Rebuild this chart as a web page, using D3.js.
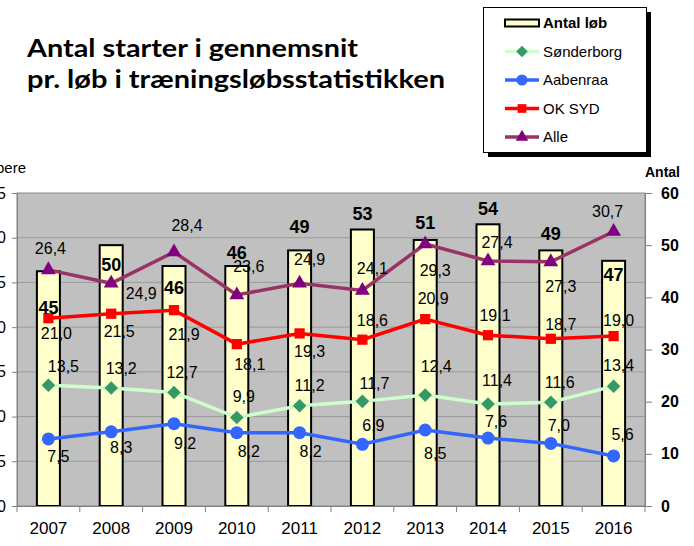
<!DOCTYPE html>
<html>
<head>
<meta charset="utf-8">
<script src="https://cdn.jsdelivr.net/npm/d3@7"></script>
<style>
  body { margin: 0; background: #fff; }
  svg { display: block; font-family: "Liberation Sans", Arial, sans-serif; }
</style>
</head>
<body>
<script>
// data
var years = [2007, 2008, 2009, 2010, 2011, 2012, 2013, 2014, 2015, 2016];
var antalLob = [45, 50, 46, 46, 49, 53, 51, 54, 49, 47];
var sonderborg = [13.5, 13.2, 12.7, 9.9, 11.2, 11.7, 12.4, 11.4, 11.6, 13.4];
var aabenraa = [7.5, 8.3, 9.2, 8.2, 8.2, 6.9, 8.5, 7.6, 7.0, 5.6];
var okSyd = [21.0, 21.5, 21.9, 18.1, 19.3, 18.6, 20.9, 19.1, 18.7, 19.0];
var alle = [26.4, 24.9, 28.4, 23.6, 24.9, 24.1, 29.3, 27.4, 27.3, 30.7];
var leftTicks = [0, 5, 10, 15, 20, 25, 30, 35];
var rightTicks = [0, 10, 20, 30, 40, 50, 60];

// where the value labels sit, px from their marker (manually placed in the original)
var alleOff = [[2,-22],[30,10],[13,-27],[12,-29],[10,-24],[10,-22],[10,26],[9,-19],[10,24],[-6,-20]];
var okSydOff = [[8,15],[8,18],[10,24],[13,20],[10,18],[10,-19],[8,-21],[7,-20],[10,-15],[5,-16]];
var sonderOff = [[15,-19],[10,-20],[8,-20],[7,-21],[10,-21],[12,-18],[11,-29],[9,-24],[9,-20],[5,-21]];
var aabenOff = [[10,17],[10,15],[11,20],[12,19],[11,19],[11,-19],[10,23],[8,-17],[8,-18],[9,-22]];
var barOff = [36, 19, 21, -14, -24, -16, -17, -16, -17, 14];

var W = 694, H = 546;
var plot = {left: 17, right: 645, top: 193, bottom: 506};

var svg = d3.select("body").append("svg")
    .attr("width", W)
    .attr("height", H);

var x = d3.scaleBand().domain(years).range([plot.left, plot.right]).padding(0);
var yL = d3.scaleLinear().domain([0, 35]).range([plot.bottom, plot.top]);
var yR = d3.scaleLinear().domain([0, 60]).range([plot.bottom, plot.top]);
var cx = function(d, i) { return x(years[i]) + x.bandwidth() / 2; };

// title
var title = svg.append("g")
    .style("font-family", "Lato, 'Open Sans', sans-serif")
    .style("font-weight", "bold")
    .style("font-size", "24px");
title.append("text").attr("x", 27).attr("y", 57)
    .attr("textLength", 331).attr("lengthAdjust", "spacingAndGlyphs")
    .text("Antal starter i gennemsnit");
title.append("text").attr("x", 27).attr("y", 88)
    .attr("textLength", 418).attr("lengthAdjust", "spacingAndGlyphs")
    .text("pr. løb i træningsløbsstatistikken");

// plot background + grid
svg.append("rect")
    .attr("x", plot.left).attr("y", plot.top)
    .attr("width", plot.right - plot.left).attr("height", plot.bottom - plot.top)
    .attr("fill", "#c0c0c0")
    .attr("stroke", "#8a8a8a");

svg.append("g").selectAll("line")
    .data(leftTicks.slice(1, -1))
  .enter().append("line")
    .attr("x1", plot.left).attr("x2", plot.right)
    .attr("y1", function(d) { return yL(d); })
    .attr("y2", function(d) { return yL(d); })
    .attr("stroke", "#9a9a9a");

// bars
var barW = 23;
svg.append("g").selectAll("rect")
    .data(antalLob)
  .enter().append("rect")
    .attr("x", function(d, i) { return cx(d, i) - barW / 2; })
    .attr("y", function(d) { return yR(d); })
    .attr("width", barW)
    .attr("height", function(d) { return plot.bottom - yR(d); })
    .attr("fill", "#ffffcc")
    .attr("stroke", "#000")
    .attr("stroke-width", 2);

// axes
var axL = svg.append("g")
    .attr("transform", "translate(" + plot.left + ",0)")
    .call(d3.axisLeft(yL).tickValues(leftTicks).tickSize(5).tickPadding(6).tickSizeOuter(0));
axL.select(".domain").attr("stroke", "#808080");
axL.selectAll(".tick line").attr("stroke", "#808080");
axL.selectAll("text").style("font-size", "16px").style("font-family", "Liberation Sans").attr("fill", "#000");

var axR = svg.append("g")
    .attr("transform", "translate(" + plot.right + ",0)")
    .call(d3.axisRight(yR).tickValues(rightTicks).tickSize(7).tickPadding(9).tickSizeOuter(0));
axR.select(".domain").attr("stroke", "#808080");
axR.selectAll(".tick line").attr("stroke", "#808080");
axR.selectAll("text").style("font-size", "16px").style("font-weight", "bold")
    .style("font-family", "Liberation Sans").attr("fill", "#000");

var axB = svg.append("g")
    .attr("transform", "translate(0," + plot.bottom + ")")
    .call(d3.axisBottom(x).tickSize(0).tickPadding(16).tickSizeOuter(0));
axB.select(".domain").attr("stroke", "#808080");
axB.selectAll("text").style("font-size", "17px").style("font-family", "Liberation Sans").attr("fill", "#000");

// category divider ticks on the x axis
svg.append("g").selectAll("line")
    .data(d3.range(years.length + 1))
  .enter().append("line")
    .attr("x1", function(k) { return plot.left + k * x.step(); })
    .attr("x2", function(k) { return plot.left + k * x.step(); })
    .attr("y1", plot.bottom).attr("y2", plot.bottom + 6)
    .attr("stroke", "#808080");

svg.append("text")
    .attr("x", 26).attr("y", 173)
    .attr("text-anchor", "end")
    .style("font-size", "15px")
    .text("Løbere");
svg.append("text")
    .attr("x", 680).attr("y", 177)
    .attr("text-anchor", "end")
    .style("font-size", "14px").style("font-weight", "bold")
    .text("Antal");

// line series
var series = [
  {name: "Sønderborg", values: sonderborg, line: "#ccffcc", mark: "#339966", sym: "diamond", off: sonderOff},
  {name: "Aabenraa", values: aabenraa, line: "#3366ff", mark: "#3366ff", sym: "circle", off: aabenOff},
  {name: "OK SYD", values: okSyd, line: "#ff0000", mark: "#ff0000", sym: "square", off: okSydOff},
  {name: "Alle", values: alle, line: "#993366", mark: "#800080", sym: "triangle", off: alleOff}
];

function symbolPath(sym) {
  if (sym === "diamond") return d3.symbol(d3.symbolSquare, 92)();
  if (sym === "circle") return d3.symbol(d3.symbolCircle, 133)();
  if (sym === "square") return d3.symbol(d3.symbolSquare, 105)();
  return d3.symbol(d3.symbolTriangle, 95)();
}
function symbolRot(sym) { return sym === "diamond" ? " rotate(45)" : ""; }

var line = d3.line()
    .x(cx)
    .y(function(d) { return yL(d); });

series.forEach(function(s) {
  var g = svg.append("g");
  g.append("path")
      .datum(s.values)
      .attr("d", line)
      .attr("fill", "none")
      .attr("stroke", s.line)
      .attr("stroke-width", 3.5);
  g.selectAll(".m")
      .data(s.values)
    .enter().append("path")
      .attr("class", "m")
      .attr("d", symbolPath(s.sym))
      .attr("transform", function(d, i) {
        return "translate(" + cx(d, i) + "," + yL(d) + ")" + symbolRot(s.sym);
      })
      .attr("fill", s.mark);
});

// value labels
var fmt = function(v) { return d3.format(".1f")(v).replace(".", ","); };
series.forEach(function(s) {
  svg.append("g").selectAll("text")
      .data(s.values)
    .enter().append("text")
      .attr("x", function(d, i) { return cx(d, i) + s.off[i][0]; })
      .attr("y", function(d, i) { return yL(d) + s.off[i][1]; })
      .attr("dy", "0.36em")
      .attr("text-anchor", "middle")
      .style("font-size", "16px")
      .text(fmt);
});

svg.append("g").selectAll("text")
    .data(antalLob)
  .enter().append("text")
    .attr("x", cx)
    .attr("y", function(d, i) { return yR(d) + barOff[i]; })
    .attr("dy", "0.36em")
    .attr("text-anchor", "middle")
    .style("font-size", "18px").style("font-weight", "bold")
    .text(function(d) { return d; });

// legend
var lg = svg.append("g");
lg.append("rect").attr("x", 488).attr("y", 12).attr("width", 163).attr("height", 145).attr("fill", "#000");
lg.append("rect").attr("x", 483.5).attr("y", 7.5).attr("width", 163).attr("height", 145)
    .attr("fill", "#fff").attr("stroke", "#000");

var legendRows = [{name: "Antal løb", bar: true}].concat(series);
legendRows.forEach(function(r, i) {
  var ly = 23 + i * 28.5;
  if (r.bar) {
    lg.append("rect").attr("x", 505).attr("y", ly - 3.5).attr("width", 34).attr("height", 7)
        .attr("fill", "#ffffcc").attr("stroke", "#000").attr("stroke-width", 2);
  } else {
    lg.append("line").attr("x1", 505).attr("x2", 539).attr("y1", ly).attr("y2", ly)
        .attr("stroke", r.line).attr("stroke-width", 3.5);
    lg.append("path").attr("d", symbolPath(r.sym))
        .attr("transform", "translate(522," + ly + ")" + symbolRot(r.sym) + " scale(0.85)")
        .attr("fill", r.mark);
  }
  lg.append("text").attr("x", 543).attr("y", ly).attr("dy", "0.36em")
      .style("font-size", "15px")
      .style("font-weight", r.bar ? "bold" : "normal")
      .text(r.name);
});
</script>
</body>
</html>
